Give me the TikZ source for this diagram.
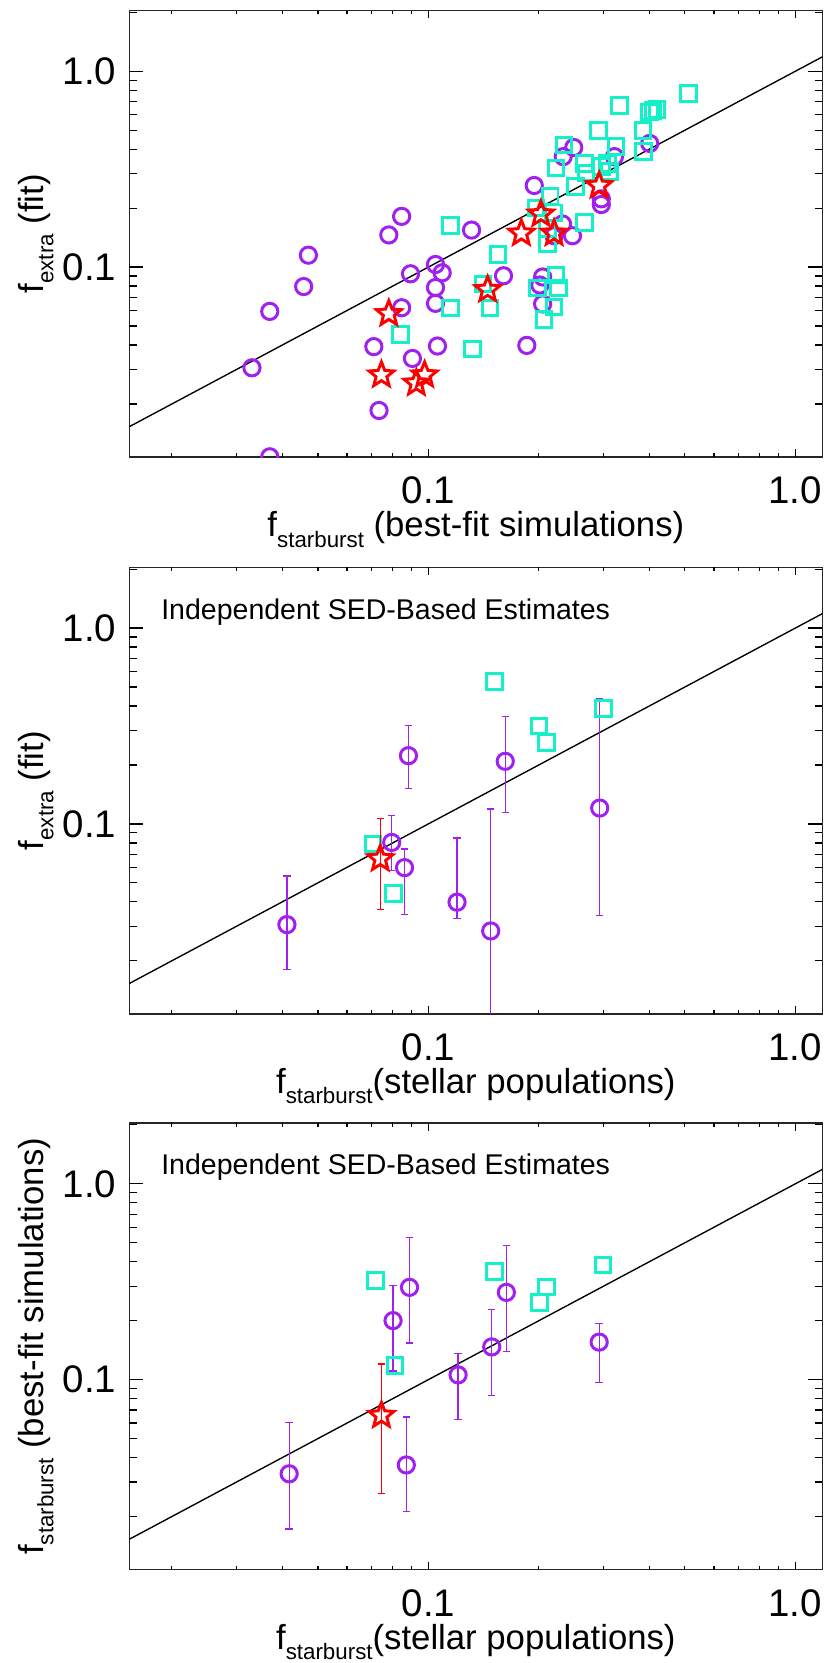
\documentclass[tikz,border=0pt]{standalone}
\usepackage{fontspec}
\setmainfont{Liberation Sans}
\usetikzlibrary{positioning,shapes.geometric,arrows.meta}

\definecolor{sedpurple}{RGB}{160,32,240}
\definecolor{sedcyan}{RGB}{20,240,200}
\definecolor{sedred}{RGB}{255,0,0}

\newcommand{\fsub}[1]{f\raisebox{-0.3em}{\fontsize{18}{18}\selectfont #1}}

\def\xmin{-1.815}\def\xmax{0.074}\def\ymin{-1.97}\def\ymax{0.31}
\def\xmid{-0.8705}\def\ymid{-0.83}

\tikzset{
  frameline/.style={line width=1.1pt,draw=black!85},
  tickline/.style={line width=1pt},
  ticklab/.style={font=\fontsize{31}{31}\selectfont,inner sep=0pt},
  axtitle/.style={font=\fontsize{28}{28}\selectfont,inner sep=0pt},
  note/.style={font=\fontsize{23}{23}\selectfont,inner sep=0pt,anchor=west},
  circmark/.style={circle,draw=sedpurple,line width=2.4pt,minimum size=0.46cm,inner sep=0pt},
  sqmark/.style={rectangle,draw=sedcyan,line width=2.4pt,minimum size=0.44cm,inner sep=0pt},
  starmark/.style={star,star points=5,star point ratio=2.3,draw=sedred,line width=2.4pt,minimum size=0.74cm,inner sep=0pt},
  errbar/.style={line width=1pt,{Bar[width=6pt]}-{Bar[width=6pt]}},
  oneline/.style={line width=1.1pt}
}

% frame, log ticks, labels of one panel
\newcommand{\plotframe}[3]{%
  \draw[frameline] (\xmin,\ymin) rectangle (\xmax,\ymax);
  \foreach \d in {-2,-1}{\foreach \m in {2,...,9}{
    \draw[tickline] ({\d+log10(\m)},\ymin) -- ++(0,0.11cm);
    \draw[tickline] ({\d+log10(\m)},\ymax) -- ++(0,-0.11cm);
    \draw[tickline] (\xmin,{\d+log10(\m)}) -- ++(0.22cm,0);
    \draw[tickline] (\xmax,{\d+log10(\m)}) -- ++(-0.22cm,0);}}
  \draw[tickline] (\xmin,{log10(2)}) -- ++(0.22cm,0);
  \draw[tickline] (\xmax,{log10(2)}) -- ++(-0.22cm,0);
  \foreach \v/\t in {-1/0.1,0/1.0}{
    \draw[tickline] (\v,\ymin) -- ++(0,0.22cm);
    \draw[tickline] (\v,\ymax) -- ++(0,-0.22cm);
    \draw[tickline] (\xmin,\v) -- ++(0.4cm,0);
    \draw[tickline] (\xmax,\v) -- ++(-0.4cm,0);
    \node[ticklab,anchor=north,yshift=-0.55cm] (#3xt\t) at (\v,\ymin) {\t};
    \node[ticklab,anchor=east,xshift=-0.36cm] (#3yt\t) at (\xmin,\v) {\t};}
  \node[axtitle,yshift=-2.05cm] (#3xlab) at (\xmid,\ymin) {#2};
  \node[axtitle,xshift=-2.65cm,rotate=90] (#3ylab) at (\xmin,\ymid) {#1};
}

\begin{document}
\begin{tikzpicture}
\useasboundingbox (0,0) rectangle (23.52,47.13);

% top panel
\begin{scope}[shift={(22.54,45.11)},x=10.40cm,y=5.55cm]
  \plotframe{\fsub{extra} (fit)}{\fsub{starburst} (best-fit simulations)}{a}
  \begin{scope}
    \clip (\xmin,\ymin) rectangle (\xmax,\ymax);
    \draw[oneline] (\xmin,\xmin) -- (\xmax,\xmax);
    \foreach \x/\y [count=\i] in {0.0323/0.0306,0.0365/0.0594,0.0456/0.0789,0.0470/0.115,0.0724/0.0183,
      0.0699/0.0389,0.0773/0.144,0.0841/0.181,0.0841/0.0620,0.0891/0.0922,0.0902/0.0335,0.1045/0.103,
      0.109/0.0933,0.1045/0.078,0.1045/0.0637,0.1058/0.0392,0.128/0.153,0.159/0.090,0.185/0.0395,
      0.194/0.261,0.0365/0.0107,0.2046/0.0887,0.201/0.0804,0.2046/0.0632,0.233/0.3666,0.249/0.408,
      0.232/0.165,0.220/0.1425,0.247/0.1425,0.296/0.223,0.296/0.2085,0.3215/0.3666,0.401/0.428}
      \node[circmark] (ac\i) at ({log10(\x)},{log10(\y)}) {};
    \foreach \x/\y [count=\i] in {0.1148/0.162,0.1535/0.116,0.1387/0.0814,0.1148/0.0618,0.1455/0.0618,
      0.0836/0.0452,0.1288/0.0377,0.511/0.768,0.332/0.670,0.409/0.632,0.420/0.636,0.401/0.620,
      0.385/0.497,0.386/0.389,0.291/0.497,0.325/0.412,0.2345/0.420,0.2225/0.320,0.266/0.339,
      0.269/0.302,0.308/0.339,0.312/0.308,0.296/0.326,0.252/0.258,0.2147/0.2298,0.196/0.2006,
      0.219/0.189,0.211/0.156,0.211/0.128,0.266/0.168,0.2225/0.091,0.198/0.0774,0.2264/0.0774,
      0.220/0.0625,0.2066/0.054}
      \node[sqmark] (as\i) at ({log10(\x)},{log10(\y)}) {};
    \foreach \x/\y [count=\i] in {0.0773/0.0578,0.0736/0.0281,0.0925/0.0255,0.0975/0.0281,0.143/0.0759,
      0.1786/0.147,0.2024/0.186,0.220/0.147,0.292/0.2604}
      \node[starmark] (ar\i) at ({log10(\x)},{log10(\y)}) {};
  \end{scope}
\end{scope}

% middle panel
\begin{scope}[shift={(22.54,29.33)},x=10.40cm,y=5.55cm]
  \plotframe{\fsub{extra} (fit)}{\fsub{starburst}(stellar populations)}{b}
  \node[note,xshift=0.9cm,yshift=-1.26cm] (bnote) at (\xmin,\ymax) {Independent SED-Based Estimates};
  \begin{scope}
    \clip (\xmin,\ymin) rectangle (\xmax,\ymax);
    \draw[oneline] (\xmin,\xmin) -- (\xmax,\xmax);
    \foreach \x/\y/\lo/\hi [count=\i] in {0.0409/0.0306/0.0176/0.0545,0.0788/0.0798/0.0575/0.111,
      0.0857/0.0598/0.0334/0.0741,0.0879/0.223/0.149/0.321,0.1197/0.0395/0.0319/0.0849,
      0.146/0.0284/0.005/0.120,0.1608/0.2086/0.113/0.357,0.293/0.1205/0.0331/0.437}{
      \draw[errbar,sedpurple] ({log10(\x)},{log10(\lo)}) -- ({log10(\x)},{log10(\hi)});
      \node[circmark] (bc\i) at ({log10(\x)},{log10(\y)}) {};}
    \foreach \x/\y [count=\i] in {0.0695/0.0783,0.0798/0.044,0.1496/0.535,0.200/0.316,0.210/0.2605,0.300/0.389}
      \node[sqmark] (bs\i) at ({log10(\x)},{log10(\y)}) {};
    \draw[errbar,sedred] ({log10(0.0730)},{log10(0.0357)}) -- ({log10(0.0730)},{log10(0.107)});
    \node[starmark] (br1) at ({log10(0.0730)},{log10(0.0649)}) {};
  \end{scope}
\end{scope}

% bottom panel
\begin{scope}[shift={(22.54,13.58)},x=10.40cm,y=5.55cm]
  \plotframe{\fsub{starburst} (best-fit simulations)}{\fsub{starburst}(stellar populations)}{c}
  \node[note,xshift=0.9cm,yshift=-1.26cm] (cnote) at (\xmin,\ymax) {Independent SED-Based Estimates};
  \begin{scope}
    \clip (\xmin,\ymin) rectangle (\xmax,\ymax);
    \draw[oneline] (\xmin,\xmin) -- (\xmax,\xmax);
    \foreach \x/\y/\lo/\hi [count=\i] in {0.0415/0.0323/0.0168/0.0607,0.0867/0.0362/0.0209/0.0633,
      0.0795/0.200/0.110/0.304,0.0885/0.296/0.151/0.534,0.1205/0.1057/0.0624/0.135,
      0.147/0.145/0.0822/0.229,0.162/0.279/0.136/0.488,0.292/0.154/0.0955/0.195}{
      \draw[errbar,sedpurple] ({log10(\x)},{log10(\lo)}) -- ({log10(\x)},{log10(\hi)});
      \node[circmark] (cc\i) at ({log10(\x)},{log10(\y)}) {};}
    \foreach \x/\y [count=\i] in {0.0706/0.321,0.0806/0.118,0.150/0.357,0.210/0.297,0.2004/0.248,0.299/0.386}
      \node[sqmark] (cs\i) at ({log10(\x)},{log10(\y)}) {};
    \draw[errbar,sedred] ({log10(0.0736)},{log10(0.0259)}) -- ({log10(0.0736)},{log10(0.121)});
    \node[starmark] (cr1) at ({log10(0.0736)},{log10(0.0641)}) {};
  \end{scope}
\end{scope}
\end{tikzpicture}
\end{document}
